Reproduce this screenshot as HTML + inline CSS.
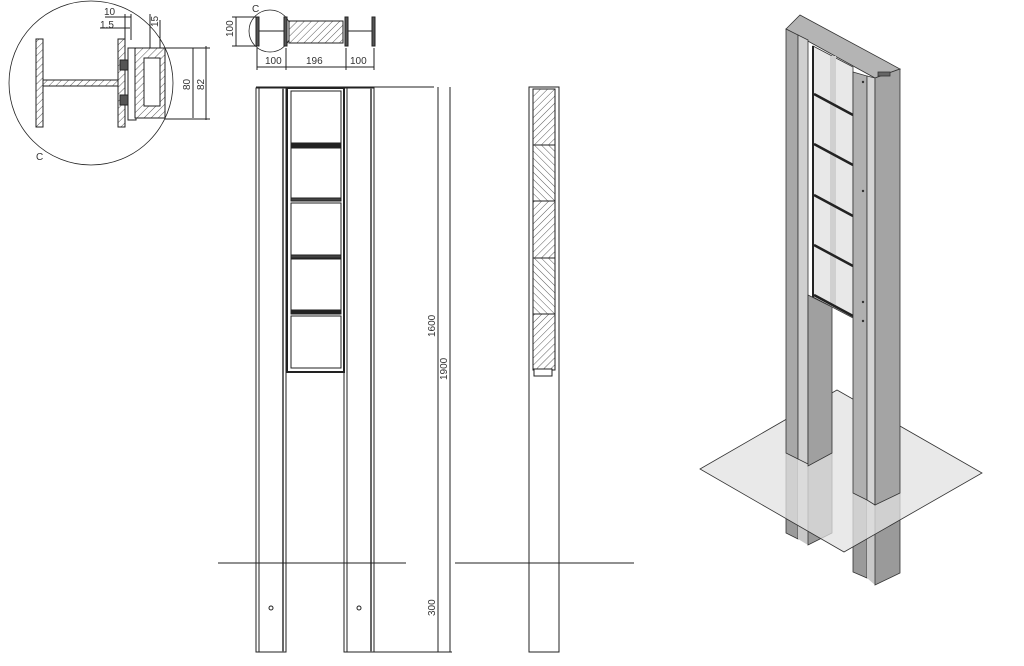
<!DOCTYPE html>
<html><head><meta charset="utf-8"><style>
html,body{margin:0;padding:0;background:#fff;width:1024px;height:666px;overflow:hidden}
svg{display:block}
text{font-family:"Liberation Sans",sans-serif;fill:#333}
</style></head><body>
<svg width="1024" height="666" viewBox="0 0 1024 666" xmlns="http://www.w3.org/2000/svg">
<defs>
<pattern id="h" width="5" height="5" patternUnits="userSpaceOnUse" patternTransform="rotate(45)">
<rect width="5" height="5" fill="#fff"/><line x1="0" y1="0" x2="0" y2="5" stroke="#333" stroke-width="0.8"/></pattern>
<pattern id="h2" width="5" height="5" patternUnits="userSpaceOnUse" patternTransform="rotate(-45)">
<rect width="5" height="5" fill="#fff"/><line x1="0" y1="0" x2="0" y2="5" stroke="#333" stroke-width="0.8"/></pattern>
</defs>
<g stroke="#222" fill="none" stroke-width="1">
<!-- Detail C -->
<circle cx="91" cy="83" r="82" stroke-width="0.8"/>
<rect x="36" y="39" width="7" height="88" fill="url(#h)"/>
<rect x="43" y="80" width="75" height="6" fill="url(#h)"/>
<rect x="118" y="39" width="7" height="88" fill="url(#h)"/>
<rect x="128" y="48" width="8" height="72"/>
<rect x="135" y="48" width="30" height="70" fill="url(#h)"/>
<rect x="144" y="58" width="16" height="48" fill="#fff"/>
<rect x="120" y="60" width="8" height="10" fill="#555"/>
<rect x="120" y="95" width="8" height="10" fill="#555"/>
<line x1="125" y1="14" x2="125" y2="40"/><line x1="131" y1="14" x2="131" y2="40"/>
<line x1="100" y1="28" x2="130" y2="28"/><line x1="105" y1="17" x2="131" y2="17"/>
<line x1="150" y1="14" x2="150" y2="48"/><line x1="160" y1="20" x2="160" y2="48"/>
<line x1="165" y1="48" x2="210" y2="48"/><line x1="165" y1="119" x2="210" y2="119"/>
<line x1="193" y1="48" x2="193" y2="118"/><line x1="206" y1="46" x2="206" y2="120"/>
<!-- plan view -->
<circle cx="270" cy="31" r="21" stroke-width="0.8"/>
<rect x="256" y="17" width="3" height="29" fill="#555"/>
<rect x="284" y="17" width="3" height="29" fill="#555"/>
<rect x="345" y="17" width="3" height="29" fill="#555"/>
<rect x="372" y="17" width="3" height="29" fill="#555"/>
<line x1="259" y1="31" x2="284" y2="31"/><line x1="348" y1="31" x2="372" y2="31"/>
<rect x="289" y="21" width="54" height="22" fill="url(#h)"/>
<line x1="232" y1="17" x2="256" y2="17"/><line x1="232" y1="46" x2="256" y2="46"/>
<line x1="236" y1="17" x2="236" y2="46"/>
<line x1="257" y1="48" x2="257" y2="70"/><line x1="286" y1="48" x2="286" y2="70"/>
<line x1="346" y1="48" x2="346" y2="70"/><line x1="374" y1="48" x2="374" y2="70"/>
<line x1="257" y1="67" x2="374" y2="67"/>
<!-- front elevation -->
<line x1="256" y1="87" x2="434" y2="87"/>
<rect x="256" y="88" width="30" height="564"/><line x1="259" y1="88" x2="259" y2="652"/><line x1="283" y1="88" x2="283" y2="652" stroke-width="2" stroke="#666"/>
<rect x="344" y="88" width="30" height="564"/><line x1="347" y1="88" x2="347" y2="652"/><line x1="371" y1="88" x2="371" y2="652" stroke-width="2" stroke="#666"/>
<rect x="287" y="88" width="57" height="284" stroke-width="2"/>
<rect x="291" y="91" width="50" height="52"/><rect x="291" y="148" width="50" height="50"/>
<rect x="291" y="203" width="50" height="52"/><rect x="291" y="259" width="50" height="51"/>
<rect x="291" y="316" width="50" height="52"/>
<rect x="291" y="143" width="50" height="4" fill="#222"/><rect x="291" y="310" width="50" height="4" fill="#222"/>
<rect x="291" y="198" width="50" height="3" fill="#444"/><rect x="291" y="255" width="50" height="3" fill="#444"/>
<line x1="218" y1="563" x2="406" y2="563"/><line x1="455" y1="563" x2="634" y2="563"/>
<line x1="374" y1="652" x2="452" y2="652"/>
<line x1="438" y1="87" x2="438" y2="652"/><line x1="450" y1="87" x2="450" y2="652"/>
<circle cx="271" cy="608" r="2"/><circle cx="359" cy="608" r="2"/>
<!-- side view -->
<rect x="529" y="87" width="30" height="565"/>
<rect x="533" y="89" width="22" height="56" fill="url(#h)"/>
<rect x="533" y="145" width="22" height="56" fill="url(#h2)"/>
<rect x="533" y="201" width="22" height="57" fill="url(#h)"/>
<rect x="533" y="258" width="22" height="56" fill="url(#h2)"/>
<rect x="533" y="314" width="22" height="56" fill="url(#h)"/>
<rect x="534" y="369" width="18" height="7" fill="#fff"/>
</g>
<g font-size="10">
<text x="104" y="15">10</text><text x="100" y="28">1.5</text>
<text x="36" y="160">C</text><text x="252" y="12">C</text>
<text x="265" y="64">100</text><text x="306" y="64">196</text><text x="350" y="64">100</text>
<text transform="translate(190,90) rotate(-90)">80</text>
<text transform="translate(204,90) rotate(-90)">82</text>
<text transform="translate(233,37) rotate(-90)">100</text>
<text transform="translate(158,27) rotate(-90)">15</text>
<text transform="translate(435,337) rotate(-90)">1600</text>
<text transform="translate(447,380) rotate(-90)">1900</text>
<text transform="translate(435,616) rotate(-90)">300</text>
</g>
<!-- isometric -->
<g stroke="#333" stroke-width="0.8">
<!-- below-ground parts -->
<polygon points="786,453 798,459 798,539 786,533" fill="#9a9a9a"/>
<polygon points="798,459 808,464 808,545 798,539" fill="#c8c8c8" stroke="none"/>
<polygon points="808,466 832,453 832,533 808,545" fill="#9a9a9a"/>
<polygon points="853,493 867,500 867,578 853,572" fill="#9a9a9a"/>
<polygon points="867,500 875,505 875,585 867,578" fill="#c8c8c8" stroke="none"/>
<polygon points="875,505 900,493 900,573 875,585" fill="#9a9a9a"/>
<!-- ground plane (translucent) -->
<polygon points="700,469 837,390 982,473 844,552" fill="#e2e2e2" fill-opacity="0.75"/>
<!-- cap -->
<polygon points="786,29 800,15 900,69 875,78" fill="#b4b4b4"/>
<!-- glass frame -->
<polygon points="813,46 853,67 853,318 813,297" fill="#e8e8e8"/>
<line x1="833" y1="56" x2="833" y2="307" stroke="#d0d0d0" stroke-width="6"/>
<g stroke="#222" stroke-width="2.5"><line x1="814" y1="94" x2="853" y2="115"/><line x1="814" y1="144" x2="853" y2="165"/><line x1="814" y1="195" x2="853" y2="216"/><line x1="814" y1="245" x2="853" y2="266"/><line x1="814" y1="295" x2="853" y2="316"/></g>
<line x1="813" y1="46" x2="813" y2="297" stroke="#222" stroke-width="2"/>
<!-- left post -->
<polygon points="786,29 798,35 798,459 786,453" fill="#a8a8a8"/>
<polygon points="798,35 808,40 808,464 798,459" fill="#d0d0d0"/>
<polygon points="808,295 832,307 832,453 808,466" fill="#a0a0a0"/>
<!-- right post -->
<polygon points="853,72 867,76 867,500 853,493" fill="#b0b0b0"/>
<polygon points="867,76 875,78 875,505 867,500" fill="#d4d4d4"/>
<polygon points="875,78 900,69 900,493 875,505" fill="#a4a4a4"/>
<rect x="878" y="72" width="12" height="4" fill="#666"/>
<g fill="#333" stroke="none"><circle cx="863" cy="82" r="1.2"/><circle cx="863" cy="191" r="1.2"/><circle cx="863" cy="302" r="1.2"/><circle cx="863" cy="321" r="1.2"/></g>
</g>
</svg>
</body></html>
